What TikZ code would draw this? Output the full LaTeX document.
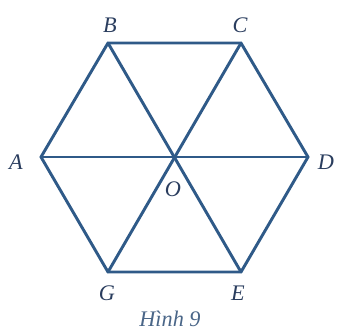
\documentclass[tikz,border=0pt]{standalone}
\usepackage{fontspec}
\setmainfont{Liberation Serif}
\usetikzlibrary{positioning}
\definecolor{hexblue}{HTML}{2F5A88}
\definecolor{labelblue}{HTML}{2A3D5E}
\definecolor{capblue}{HTML}{4A6688}

\begin{document}
\begin{tikzpicture}[
    x=0.03cm, y=-0.03cm,
    edge/.style={hexblue, line width=2.5pt, line join=round, line cap=round},
    vlabel/.style={text=labelblue, inner sep=0pt, font=\fontsize{19}{21}\selectfont\itshape},
    caption/.style={text=capblue, inner sep=0pt, font=\fontsize{19}{21}\selectfont\itshape}
]
    \useasboundingbox (0,0) rectangle (341,331);

    \coordinate (A) at (41,157);
    \coordinate (B) at (108,43);
    \coordinate (C) at (241,43);
    \coordinate (D) at (308,157);
    \coordinate (E) at (241,272);
    \coordinate (G) at (108,272);
    \coordinate (O) at (174,157);

    \draw[edge] (A) -- (B) -- (C) -- (D) -- (E) -- (G) -- cycle;
    \draw[edge] (A) -- (D);
    \draw[edge] (B) -- (E);
    \draw[edge] (C) -- (G);

    \node[vlabel] (labA) at (16,162) {A};
    \node[vlabel] (labB) at (110,25) {B};
    \node[vlabel] (labC) at (240,25) {C};
    \node[vlabel] (labD) at (326,162) {D};
    \node[vlabel] (labE) at (238,293) {E};
    \node[vlabel] (labG) at (107,293) {G};
    \node[vlabel] (labO) at (173,189) {O};

    \node[caption] (cap) at (170,319) {Hình 9};
\end{tikzpicture}
\end{document}
